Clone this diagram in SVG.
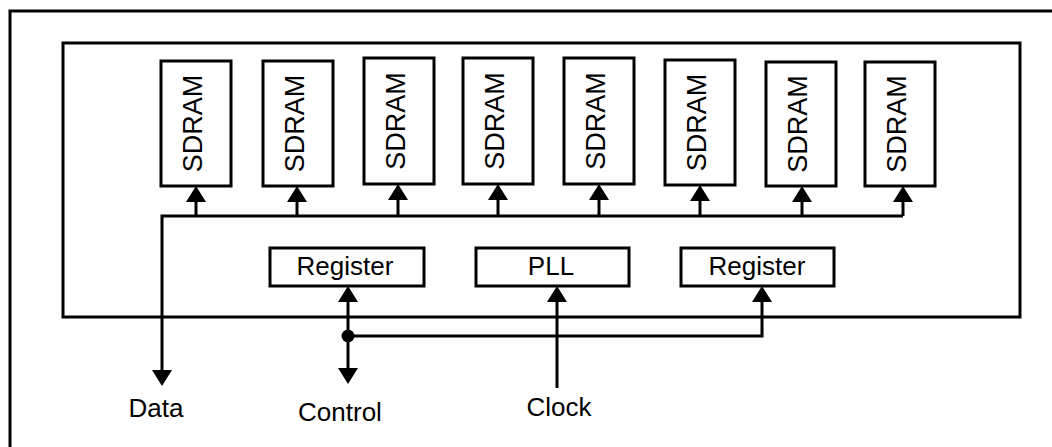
<svg xmlns="http://www.w3.org/2000/svg" width="1052" height="447" viewBox="0 0 1052 447">
  <style>
    .frame { fill: none; stroke: #000; stroke-width: 3; }
    .box { fill: #fff; stroke: #000; stroke-width: 3; }
    .wire { fill: none; stroke: #000; stroke-width: 3; }
    .lbl { font-family: "Liberation Sans", Arial, sans-serif; font-size: 26px; fill: #000; text-anchor: middle; }
    .vl { font-size: 27px; }
  </style>
  <defs>
    <marker id="arr" viewBox="0 0 16 20" refX="0" refY="10" markerWidth="16" markerHeight="20" markerUnits="userSpaceOnUse" orient="auto">
      <path d="M0,0 L16,10 L0,20 Z" fill="#000"/>
    </marker>
  </defs>
  <rect x="0" y="0" width="1052" height="447" fill="#fff"/>
  <g id="outer-frame">
    <rect class="frame" x="10" y="11" width="1100" height="500"/>
  </g>
  <g id="module">
    <rect class="frame" x="63" y="43" width="957" height="274"/>
  </g>
  <g id="sdram1"><rect class="box" x="161" y="61" width="70" height="125"/><text class="lbl vl" transform="translate(202,123.5) rotate(-90)">SDRAM</text></g>
  <g id="sdram2"><rect class="box" x="263" y="61" width="70" height="125"/><text class="lbl vl" transform="translate(304,123.5) rotate(-90)">SDRAM</text></g>
  <g id="sdram3"><rect class="box" x="364" y="58" width="70" height="126"/><text class="lbl vl" transform="translate(405,121) rotate(-90)">SDRAM</text></g>
  <g id="sdram4"><rect class="box" x="463" y="58" width="70" height="126"/><text class="lbl vl" transform="translate(504,121) rotate(-90)">SDRAM</text></g>
  <g id="sdram5"><rect class="box" x="564" y="58" width="70" height="126"/><text class="lbl vl" transform="translate(605,121) rotate(-90)">SDRAM</text></g>
  <g id="sdram6"><rect class="box" x="665" y="60" width="70" height="125"/><text class="lbl vl" transform="translate(706,122.5) rotate(-90)">SDRAM</text></g>
  <g id="sdram7"><rect class="box" x="766" y="62" width="70" height="124"/><text class="lbl vl" transform="translate(807,124) rotate(-90)">SDRAM</text></g>
  <g id="sdram8"><rect class="box" x="865" y="62" width="70" height="124"/><text class="lbl vl" transform="translate(906,124) rotate(-90)">SDRAM</text></g>
  <g id="register1"><rect class="box" x="270" y="248" width="154" height="38"/><text class="lbl" x="345" y="275">Register</text></g>
  <g id="pll"><rect class="box" x="476" y="248" width="153" height="38"/><text class="lbl" x="551" y="275">PLL</text></g>
  <g id="register2"><rect class="box" x="681" y="248" width="153" height="38"/><text class="lbl" x="757" y="275">Register</text></g>
  <g id="connectors">
    <path class="wire" d="M903,216 H162 V370" marker-end="url(#arr)"/>
    <path class="wire" d="M196,216 V202" marker-end="url(#arr)"/>
    <path class="wire" d="M297,216 V202" marker-end="url(#arr)"/>
    <path class="wire" d="M398,216 V200" marker-end="url(#arr)"/>
    <path class="wire" d="M498,216 V200" marker-end="url(#arr)"/>
    <path class="wire" d="M599,216 V200" marker-end="url(#arr)"/>
    <path class="wire" d="M700,216 V201" marker-end="url(#arr)"/>
    <path class="wire" d="M802,216 V202" marker-end="url(#arr)"/>
    <path class="wire" d="M903,216 V202" marker-end="url(#arr)"/>
    <path class="wire" d="M348,336 V302" marker-end="url(#arr)"/>
    <path class="wire" d="M348,336 V368" marker-end="url(#arr)"/>
    <path class="wire" d="M348,336 H762 V302" marker-end="url(#arr)"/>
    <circle cx="348" cy="336" r="6.5" fill="#000"/>
    <path class="wire" d="M557,388 V302" marker-end="url(#arr)"/>
  </g>
  <g id="labels">
    <text class="lbl" x="156" y="417">Data</text>
    <text class="lbl" x="340" y="421">Control</text>
    <text class="lbl" x="559" y="416">Clock</text>
  </g>
</svg>
